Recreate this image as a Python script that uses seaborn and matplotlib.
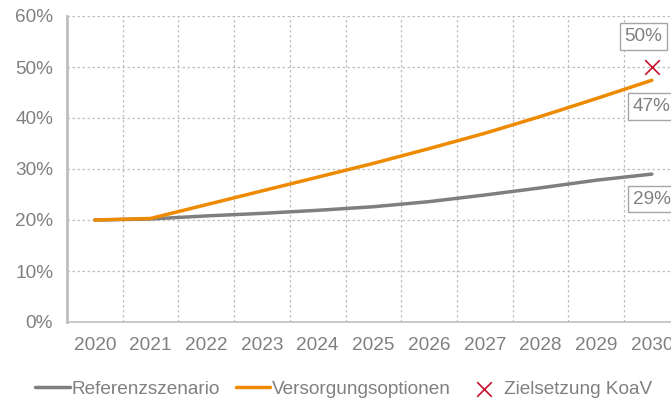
import numpy as np
import pandas as pd
import matplotlib
matplotlib.use("Agg")
import matplotlib.pyplot as plt
import seaborn as sns

# Daten
jahre = [2020, 2021, 2022, 2023, 2024, 2025, 2026, 2027, 2028, 2029, 2030]
referenz = [20.0, 20.2, 20.8, 21.3, 21.9, 22.6, 23.6, 24.9, 26.3, 27.8, 29.0]
versorgung = [20.0, 20.3, 23.0, 25.7, 28.4, 31.1, 34.0, 37.0, 40.3, 43.8, 47.4]
ziel_jahr = [2030]
ziel_wert = [50.0]

GRAU_TEXT = "#808080"
GRAU_LINIE = "#7F7F7F"
ORANGE = "#EE8A00"
ROT = "#C8102E"
GITTER = "#BFBFBF"

sns.set_style("white")
plt.rcParams["font.family"] = ["Liberation Sans", "DejaVu Sans"]
plt.rcParams["font.size"] = 13.7

df = pd.DataFrame({"Jahr": jahre, "Referenzszenario": referenz, "Versorgungsoptionen": versorgung})

fig = plt.figure(figsize=(6.71, 4.01), dpi=100)
ax = fig.add_axes([67 / 671, 1 - 322 / 401, 1 - 67 / 671, (322 - 16) / 401])

sns.lineplot(data=df, x="Jahr", y="Referenzszenario", color=GRAU_LINIE, lw=2.5,
             ax=ax, label="Referenzszenario")
sns.lineplot(data=df, x="Jahr", y="Versorgungsoptionen", color=ORANGE, lw=2.5,
             ax=ax, label="Versorgungsoptionen")
sns.scatterplot(x=ziel_jahr, y=ziel_wert, marker="x", s=110, color=ROT, linewidth=1.2,
                ax=ax, label="Zielsetzung KoaV", zorder=5)

ax.set_xlabel("")
ax.set_ylabel("")

ax.set_xticks(jahre)
ax.set_xticklabels([str(j) for j in jahre])
ax.set_xticks([j - 0.5 for j in jahre] + [2030.5], minor=True)
ax.set_yticks(np.arange(0, 61, 10))
ax.set_yticklabels([f"{v}%" for v in range(0, 61, 10)])
# Grenzen erst nach den Ticks setzen (sonst erweitert set_xticks die Achse)
ax.set_xlim(2019.5, 2019.5 + (671 - 67) / 55.7)
ax.set_ylim(0, 60)

ax.tick_params(axis="x", which="major", length=0, pad=11, labelcolor=GRAU_TEXT, labelsize=13.7)
ax.tick_params(axis="x", which="minor", length=6, color=GITTER, width=1, direction="out")
ax.tick_params(axis="y", length=6, color=GITTER, width=1, pad=4, labelcolor=GRAU_TEXT, labelsize=13.7)

ax.grid(False)
ax.grid(True, axis="y", which="major", linestyle=(0, (2, 2)), color=GITTER, lw=0.9)
ax.grid(True, axis="x", which="minor", linestyle=(0, (2, 2)), color=GITTER, lw=0.9)
ax.set_axisbelow(True)

for s in ["top", "right"]:
    ax.spines[s].set_visible(False)
ax.spines["left"].set_color(GITTER)
ax.spines["left"].set_linewidth(2)
ax.spines["bottom"].set_color(GITTER)
ax.spines["bottom"].set_linewidth(1.2)

# Wertebeschriftungen
box = dict(boxstyle="square,pad=0.25", fc="white", ec="#A6A6A6", lw=1)
ax.annotate("50%", (ziel_jahr[0], ziel_wert[0]), xytext=(-6, 22), textcoords="offset points",
            ha="center", va="center", color=GRAU_TEXT, fontsize=13.7, bbox=box, annotation_clip=False)
ax.annotate("47%", (jahre[-1], versorgung[-1]), xytext=(0, -19), textcoords="offset points",
            ha="center", va="center", color=GRAU_TEXT, fontsize=13.7, bbox=box, annotation_clip=False)
ax.annotate("29%", (jahre[-1], referenz[-1]), xytext=(0, -18), textcoords="offset points",
            ha="center", va="center", color=GRAU_TEXT, fontsize=13.7, bbox=box, annotation_clip=False)

leg = ax.legend(loc="center", bbox_to_anchor=(0.512, 1 - 389 / 401), bbox_transform=fig.transFigure,
                ncol=3, frameon=False, handlelength=1.8, handletextpad=0.1, columnspacing=0.85,
                fontsize=13.7)
for t in leg.get_texts():
    t.set_color(GRAU_TEXT)

fig.savefig("out.png", dpi=100)
